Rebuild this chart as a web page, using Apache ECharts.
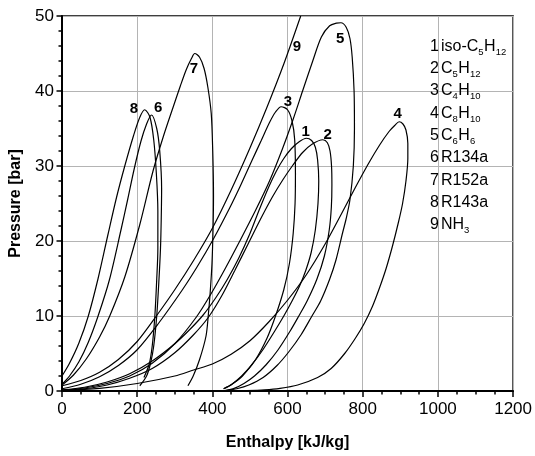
<!DOCTYPE html>
<html>
<head>
<meta charset="utf-8">
<script src="https://cdn.jsdelivr.net/npm/echarts@6/dist/echarts.min.js"></script>
<style>
html, body { margin: 0; padding: 0; background: #fff; }
#chart { width: 535px; height: 456px; }
</style>
</head>
<body>
<div id="chart"></div>
<script>
var FONT = '"Liberation Sans", Arial, sans-serif';

// axis ranges
var xMin = 0, xMax = 1200, xStep = 200;
var yMin = 0, yMax = 50, yStep = 10;

// saturation lines: [enthalpy kJ/kg, pressure bar]
// 1 iso-C5H12
var liq1 = [[0,0.15],[60,0.5],[120,1.2],[180,2.3],[240,4],[300,6.3],[340,8.2],[375,10.1],[410,12.5],[440,14.9],[470,17.7],[500,21],[525,24.2],[550,27.2],[570,29.3],[590,31],[610,32.3],[630,33.2],[650,33.7]];
var vap1 = [[650,33.7],[664,33.4],[674,32.5],[680,30.8],[683,28],[681,25],[674,21.5],[663,18.5],[648,16],[632,14],[612,12],[590,10],[566,8],[533,5.4],[505,3.5],[478,2],[452,0.9],[430,0.3]];
// 2 C5H12
var liq2 = [[0,0.08],[60,0.3],[120,0.8],[180,1.7],[240,3],[300,5.1],[350,7.5],[389,9.8],[425,12.7],[460,16.1],[495,19.6],[530,23.1],[560,25.9],[588,28.2],[614,30.1],[640,31.8],[665,32.9],[694,33.5]];
var vap2 = [[694,33.5],[706,33.1],[713,32],[717,30],[718,27.5],[716.5,24.5],[711,21.5],[698,18],[678,14.9],[652,12],[630,10],[607,8],[575,5.5],[543,3.5],[512,2],[484,1],[458,0.35],[435,0.08]];
// 3 C4H10
var liq3 = [[0,0.3],[50,0.9],[100,1.9],[150,3.4],[200,5.5],[255,8.9],[319,13.4],[360,16.6],[402,20.2],[446,24.4],[475,27.4],[505,30.7],[530,33.4],[552,35.8],[568,37.2],[583,37.9]];
var vap3 = [[583,37.9],[600,37.5],[612,36],[619,33.5],[621,29],[620,25],[615,21],[605,17],[590,13.5],[568,10],[545,7],[515,4.2],[480,2],[452,0.9],[430,0.3]];
// 4 C8H10
var liq4 = [[0,0.05],[100,0.35],[200,1],[300,2],[350,2.8],[400,3.6],[450,4.9],[500,6.7],[550,9.2],[600,12.1],[650,15.5],[700,19.6],[740,23.3],[780,27.1],[815,30.3],[845,32.8],[870,34.6],[885,35.4],[897,35.9]];
var vap4 = [[897,35.9],[907,35.6],[915,34.8],[920,33],[920,31],[915,28],[906,25],[895,22.5],[879,19.3],[862,16.3],[845,13.8],[826,11.3],[804,9],[780,7],[752,5],[716,3],[680,1.8],[627,0.8],[580,0.35],[539,0.15],[490,0.05],[450,0.02]];
// 5 C6H6
var liq5 = [[0,0.1],[60,0.4],[120,1],[180,2],[240,3.7],[300,6.3],[358,9.9],[397,13],[435,16.4],[473,20],[515,24.1],[552,28],[585,32.1],[614,36.1],[640,40],[667,44],[690,47.2],[712,48.7],[730,49.05],[742,49.1]];
var vap5 = [[742,49.1],[756,48.5],[766,47],[772,44.5],[777,40],[778,35],[775,30],[766,25.5],[756,23],[746,21],[729,17.5],[712,14.9],[688,12],[665,10],[636,7.5],[603,5.2],[572,3.4],[535,1.8],[497,0.8],[465,0.3],[440,0.1]];
// 6 R134a
var liq6 = [[0,0.9],[20,2],[45,3.9],[70,6.5],[96,10],[126,14.8],[157,21.5],[175,25.6],[192,29.6],[210,33.3],[225,35.6],[238,36.8]];
var vap6 = [[238,36.8],[252,35],[260,32],[265,27],[264,23],[262,19],[258,14.9],[252,10],[244,6],[236,3.8],[225,2],[207,0.7]];
// 7 R152a
var liq7 = [[0,0.8],[30,2.1],[65,4.3],[100,7.2],[127,10],[167,15.2],[207,22.2],[242,29.3],[270,34],[296,37.9],[315,40.7],[331,42.9],[345,44.4],[353,45]];
var vap7 = [[353,45],[366,44.5],[378,43],[388,40.5],[397,37],[401,32],[403,26],[402,22],[399,17],[394,13],[389,10],[383,7.3],[366,4.2],[349,2],[335,0.7]];
// 8 R143a
var liq8 = [[0,2],[20,3.7],[45,6.4],[70,10],[96,15],[122,20.8],[145,25.8],[167,30],[190,34],[207,36.5],[220,37.5]];
var vap8 = [[220,37.5],[234,36.5],[244,33.5],[251,29],[255,24],[255,19],[252,14.9],[247,10],[240,6],[232,3.6],[218,1.8]];
// 9 NH3 (only the liquid line is inside the frame)
var liq9 = [[0,0.7],[50,1.4],[100,2.5],[150,4.2],[200,6.6],[251,10],[300,13.5],[350,17.4],[400,21.7],[450,26.8],[500,32.4],[545,37.8],[590,43.6],[635,50]];
var vap9 = [];

// curve number labels
var labelText = ['1', '2', '3', '4', '5', '6', '7', '8', '9'];
var labelX = [648, 707, 601, 893, 740, 256, 351, 191, 625];
var labelY = [34.5, 34.1, 38.6, 37.0, 47.0, 37.7, 43.0, 37.6, 45.9];

// legend, '|' splits normal / subscript parts
var legendNum = ['1', '2', '3', '4', '5', '6', '7', '8', '9'];
var legendName = ['iso-C|5|H|12', 'C|5|H|12', 'C|4|H|10', 'C|8|H|10', 'C|6|H|6', 'R134a', 'R152a', 'R143a', 'NH|3'];

var liqs = [liq1, liq2, liq3, liq4, liq5, liq6, liq7, liq8, liq9];
var vaps = [vap1, vap2, vap3, vap4, vap5, vap6, vap7, vap8, vap9];

var series = [];
for (var i = 0; i < liqs.length; i++) {
    series.push({
        type: 'line',
        name: labelText[i],
        data: liqs[i].concat(vaps[i].slice(1)),
        showSymbol: false,
        smooth: 0.3,
        clip: true,
        silent: true,
        lineStyle: { color: '#000', width: 1.2 },
        z: 3
    });
}

// legend block built from text pieces
var ctx = document.createElement('canvas').getContext('2d');
function textWidth(s, size) {
    ctx.font = size + 'px "Liberation Sans"';
    return ctx.measureText(s).width;
}
var legendEls = [];
var legX = 439, rowMid0 = 46.3, rowStep = 22.3;
for (var r = 0; r < legendNum.length; r++) {
    var yMid = rowMid0 + r * rowStep;
    legendEls.push({
        type: 'text', x: legX, y: yMid, z: 10,
        style: { text: legendNum[r], fontSize: 16, fontFamily: FONT, fill: '#000', align: 'right', verticalAlign: 'middle' }
    });
    var parts = legendName[r].split('|');
    var cx = legX + 2;
    for (var k = 0; k < parts.length; k++) {
        var sub = k % 2 === 1;
        var fs = sub ? 9.5 : 16;
        legendEls.push({
            type: 'text', x: cx, y: sub ? yMid + 5.8 : yMid, z: 10,
            style: { text: parts[k], fontSize: fs, fontFamily: FONT, fill: '#000', align: 'left', verticalAlign: 'middle' }
        });
        cx += textWidth(parts[k], fs) + (sub ? 0.5 : 0);
    }
}

var chart = echarts.init(document.getElementById('chart'), null, { renderer: 'canvas' });
var option = {
    animation: false,
    backgroundColor: '#fff',
    grid: {
        left: 62, right: 21, top: 16, bottom: 64,
        show: true, borderColor: '#000', borderWidth: 1.5, backgroundColor: 'transparent'
    },
    xAxis: {
        type: 'value',
        min: xMin, max: xMax, interval: xStep,
        name: 'Enthalpy [kJ/kg]',
        nameLocation: 'middle',
        nameGap: 44,
        nameTextStyle: { fontFamily: FONT, fontWeight: 'bold', fontSize: 16, color: '#000' },
        axisLine: { onZero: false, lineStyle: { color: '#000', width: 2 } },
        axisTick: { length: 6, lineStyle: { color: '#000', width: 1.5 } },
        minorTick: { show: true, splitNumber: 4, length: 3.5, lineStyle: { color: '#000', width: 1.5 } },
        splitLine: { show: true, lineStyle: { color: '#b4b4b4', width: 1 } },
        axisLabel: { fontFamily: FONT, fontSize: 17, color: '#000', margin: 10, formatter: function(v) { return String(v); } }
    },
    yAxis: {
        type: 'value',
        min: yMin, max: yMax, interval: yStep,
        name: 'Pressure [bar]',
        nameLocation: 'middle',
        nameGap: 38,
        nameTextStyle: { fontFamily: FONT, fontWeight: 'bold', fontSize: 16, color: '#000' },
        axisLine: { onZero: false, lineStyle: { color: '#000', width: 2 } },
        axisTick: { length: 5.5, lineStyle: { color: '#000', width: 1.5 } },
        minorTick: { show: true, splitNumber: 5, length: 3.5, lineStyle: { color: '#000', width: 1.5 } },
        splitLine: { show: true, lineStyle: { color: '#b4b4b4', width: 1 } },
        axisLabel: { fontFamily: FONT, fontSize: 17, color: '#000', margin: 8 }
    },
    series: series
};
chart.setOption(option);

// curve numbers placed through the axes' own scales
var numEls = labelText.map(function(t, k) {
    var p = chart.convertToPixel({ gridIndex: 0 }, [labelX[k], labelY[k]]);
    return {
        type: 'text', x: p[0], y: p[1], z: 10,
        style: { text: t, fontSize: 15, fontWeight: 'bold', fontFamily: FONT, fill: '#000', align: 'center', verticalAlign: 'middle' }
    };
});
chart.setOption({ graphic: { elements: legendEls.concat(numEls) } });
</script>
</body>
</html>
